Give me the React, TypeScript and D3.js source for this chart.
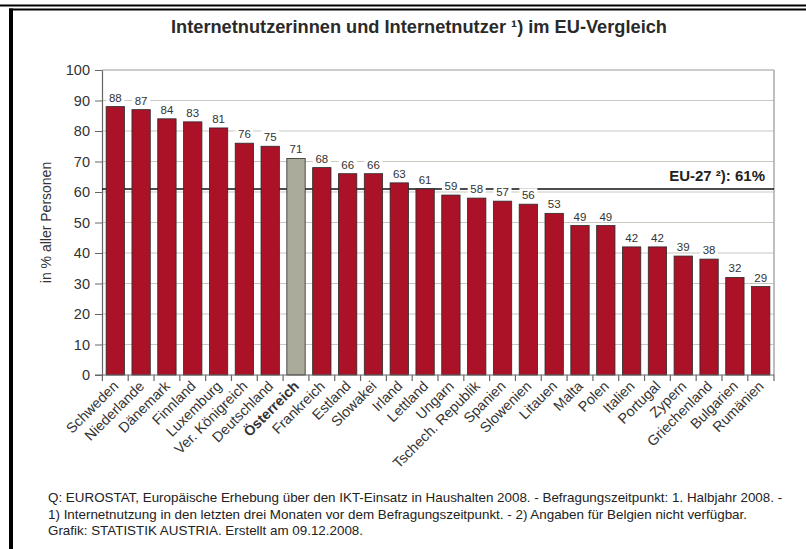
import { useEffect, useRef } from "react";
import * as d3 from "d3";

const countries = [
  "Schweden", "Niederlande", "Dänemark", "Finnland", "Luxemburg", "Ver. Königreich",
  "Deutschland", "Österreich", "Frankreich", "Estland", "Slowakei", "Irland", "Lettland",
  "Ungarn", "Tschech. Republik", "Spanien", "Slowenien", "Litauen", "Malta", "Polen",
  "Italien", "Portugal", "Zypern", "Griechenland", "Bulgarien", "Rumänien",
];
const values = [88, 87, 84, 83, 81, 76, 75, 71, 68, 66, 66, 63, 61, 59, 58, 57, 56, 53, 49, 49, 42, 42, 39, 38, 32, 29];
const highlight = "Österreich";
const euAverage = 61;
const euLabel = "EU-27 ²): 61%";
const yTicks = [0, 10, 20, 30, 40, 50, 60, 70, 80, 90, 100];
const title = "Internetnutzerinnen und Internetnutzer ¹) im EU-Vergleich";
const yTitle = "in % aller Personen";
const notes = [
  "Q: EUROSTAT, Europäische Erhebung über den IKT-Einsatz in Haushalten 2008. - Befragungszeitpunkt: 1. Halbjahr 2008. -",
  "1) Internetnutzung in den letzten drei Monaten vor dem Befragungszeitpunkt. - 2) Angaben für Belgien nicht verfügbar.",
  "Grafik: STATISTIK AUSTRIA. Erstellt am 09.12.2008.",
];

const W = 806;
const H = 549;
const FONT = "'Liberation Sans', Arial, sans-serif";

export default function App() {
  const ref = useRef<SVGSVGElement | null>(null);

  useEffect(() => {
    const svg = d3.select(ref.current);
    svg.selectAll("*").remove();

    const m = { top: 70, right: 32, bottom: 174, left: 102 };
    const x = d3.scaleBand<string>().domain(countries).range([m.left, W - m.right]).paddingInner(0.29).paddingOuter(0.16);
    const y = d3.scaleLinear().domain([0, 100]).range([H - m.bottom, m.top]);

    // frame
    svg.append("rect").attr("width", W).attr("height", H).attr("fill", "white");
    svg.append("rect").attr("x", 0).attr("y", 4.5).attr("width", W).attr("height", 2).attr("fill", "#000");
    svg.append("rect").attr("x", 9).attr("y", 8.5).attr("width", W - 9).attr("height", 2).attr("fill", "#000");
    svg.append("rect").attr("x", 9).attr("y", 8.5).attr("width", 4).attr("height", H).attr("fill", "#000");

    svg.append("text")
      .attr("x", 419).attr("y", 33)
      .attr("text-anchor", "middle")
      .attr("font-family", FONT).attr("font-size", 17.5).attr("font-weight", "bold")
      .attr("textLength", 496).attr("lengthAdjust", "spacingAndGlyphs")
      .attr("fill", "#2a2a2a")
      .text(title);

    // grid
    const g = svg.append("g");
    g.selectAll("line.grid")
      .data(yTicks.filter((t) => t > 0))
      .enter().append("line")
      .attr("x1", m.left).attr("x2", W - m.right)
      .attr("y1", (d) => y(d)).attr("y2", (d) => y(d))
      .attr("stroke", (d) => (d === 100 ? "#999" : "#c8c8c0"))
      .attr("stroke-width", 1.2);
    g.append("line")
      .attr("x1", W - m.right).attr("x2", W - m.right)
      .attr("y1", y(100)).attr("y2", y(0))
      .attr("stroke", "#aaa").attr("stroke-width", 1.5);

    // y axis
    const yAxis = g.append("g").attr("transform", `translate(${m.left},0)`)
      .call(d3.axisLeft(y).tickValues(yTicks).tickSize(7).tickSizeOuter(0));
    yAxis.select(".domain").attr("stroke", "#666").attr("stroke-width", 1.2);
    yAxis.selectAll(".tick line").attr("stroke", "#666");
    yAxis.selectAll(".tick text")
      .attr("font-family", FONT).attr("font-size", 14.5).attr("fill", "#333").attr("x", -12);

    svg.append("text")
      .attr("transform", `translate(51,${y(50)}) rotate(-90)`)
      .attr("text-anchor", "middle")
      .attr("font-family", FONT).attr("font-size", 14).attr("fill", "#333")
      .text(yTitle);

    // EU line
    g.append("line")
      .attr("x1", m.left).attr("x2", W - m.right)
      .attr("y1", y(euAverage)).attr("y2", y(euAverage))
      .attr("stroke", "#111").attr("stroke-width", 1.6);
    g.append("text")
      .attr("x", 765).attr("y", y(euAverage) - 8)
      .attr("text-anchor", "end")
      .attr("font-family", FONT).attr("font-size", 15).attr("font-weight", "bold").attr("fill", "#222")
      .text(euLabel);

    // bars
    const data = countries.map((c, i) => ({ c, v: values[i] }));
    g.selectAll("rect.bar")
      .data(data)
      .enter().append("rect")
      .attr("x", (d) => x(d.c)!)
      .attr("width", x.bandwidth())
      .attr("y", (d) => y(d.v))
      .attr("height", (d) => y(0) - y(d.v))
      .attr("fill", (d) => (d.c === highlight ? "#aaab9b" : "#ab1228"))
      .attr("stroke", "#2a2a2a").attr("stroke-width", 0.8);

    // value labels with white backing
    const lab = g.selectAll("g.val").data(data).enter().append("g")
      .attr("transform", (d) => `translate(${x(d.c)! + x.bandwidth() / 2},${y(d.v) - 5})`);
    lab.append("rect")
      .attr("x", -9).attr("y", -11).attr("width", 18).attr("height", 12)
      .attr("fill", "white");
    lab.append("text")
      .attr("text-anchor", "middle")
      .attr("font-family", FONT).attr("font-size", 11.5).attr("fill", "#333")
      .text((d) => d.v);

    // x axis ticks at band boundaries
    const step = x.step();
    const bounds = countries.map((c) => x(c)! - (step - x.bandwidth()) / 2).concat([W - m.right]);
    g.selectAll("line.xt").data(bounds).enter().append("line")
      .attr("x1", (d) => d).attr("x2", (d) => d)
      .attr("y1", y(0)).attr("y2", y(0) + 6)
      .attr("stroke", "#666").attr("stroke-width", 1.2);
    g.append("line")
      .attr("x1", m.left - 7).attr("x2", W - m.right)
      .attr("y1", y(0)).attr("y2", y(0))
      .attr("stroke", "#666").attr("stroke-width", 1.2);

    g.selectAll("text.xl").data(countries).enter().append("text")
      .attr("transform", (d) => `translate(${x(d)! + x.bandwidth() / 2 + 4},${y(0) + 12}) rotate(-45)`)
      .attr("text-anchor", "end")
      .attr("font-family", FONT).attr("font-size", 14.3)
      .attr("font-weight", (d) => (d === highlight ? "bold" : "normal"))
      .attr("fill", "#333")
      .text((d) => d);

    // notes
    svg.append("g").selectAll("text").data(notes).enter().append("text")
      .attr("x", 48).attr("y", (_d, i) => 502 + i * 16.5)
      .attr("font-family", FONT).attr("font-size", 13.4).attr("fill", "#222")
      .text((d) => d);
  }, []);

  return (
    <svg ref={ref} width={W} height={H}
      style={{ position: "absolute", left: 0, top: 0, display: "block" }} />
  );
}
